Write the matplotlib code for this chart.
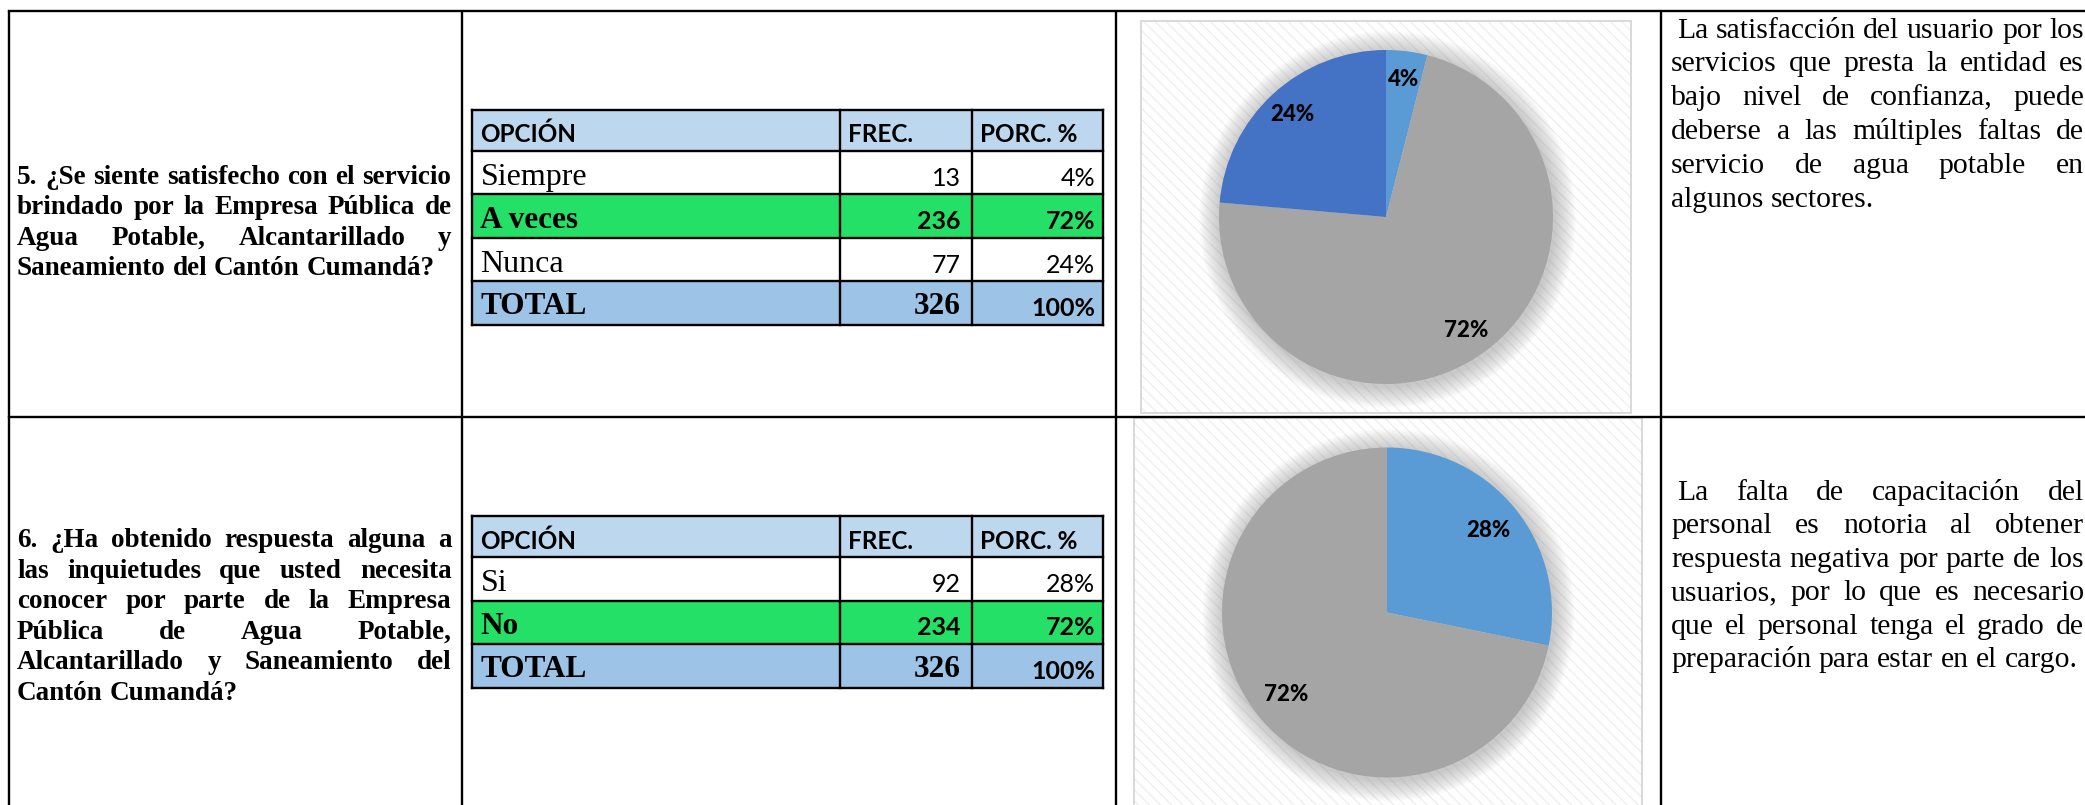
import matplotlib
matplotlib.use("Agg")
import matplotlib.pyplot as plt
from matplotlib.patches import Rectangle, Circle

# ---- data ----
q5_options = ["Siempre", "A veces", "Nunca"]
q5_freq = [13, 236, 77]
q5_colors = ["#5B9BD5", "#A5A5A5", "#4472C4"]

q6_options = ["Si", "No"]
q6_freq = [92, 234]
q6_colors = ["#5B9BD5", "#A5A5A5"]

header = ["OPCIÓN", "FREC.", "PORC. %"]

q5_text = ["5. ¿Se siente satisfecho con el servicio",
           "brindado por la Empresa Pública de",
           "Agua Potable, Alcantarillado y",
           "Saneamiento del Cantón Cumandá?"]
q6_text = ["6. ¿Ha obtenido respuesta alguna a",
           "las inquietudes que usted necesita",
           "conocer por parte de la Empresa",
           "Pública de Agua Potable,",
           "Alcantarillado y Saneamiento del",
           "Cantón Cumandá?"]
q5_comment = ["La satisfacción del usuario por los",
              "servicios que presta la entidad es",
              "bajo nivel de confianza, puede",
              "deberse a las múltiples faltas de",
              "servicio de agua potable en",
              "algunos sectores."]
q6_comment = ["La falta de capacitación del",
              "personal es notoria al obtener",
              "respuesta negativa por parte de los",
              "usuarios, por lo que es necesario",
              "que el personal tenga el grado de",
              "preparación para estar en el cargo."]

W, H = 2085, 805
SERIF = "Liberation Serif"
SANS = "Lato"

fig = plt.figure(figsize=(W / 100, H / 100), dpi=100)
ax = fig.add_axes([0, 0, 1, 1])
ax.set_xlim(0, W)
ax.set_ylim(H, 0)
ax.axis("off")
renderer = fig.canvas.get_renderer()


def text_width(s, **kw):
    t = ax.text(0, 0, s, **kw)
    w = t.get_window_extent(renderer=renderer).width
    t.remove()
    return w


def fit_size(line, width, **kw):
    # font size that makes one line exactly `width` pixels wide
    return 10 * width / text_width(line, fontsize=10, **kw)


def justified(lines, x0, x1, y0, dy, indent=0, **kw):
    # place words one by one so every line but the last fills x0..x1
    space = text_width("a a", **kw) - 2 * text_width("a", **kw)
    for i, line in enumerate(lines):
        words = line.split()
        ws = [text_width(w, **kw) for w in words]
        start = x0 + (indent if i == 0 else 0)
        if i == len(lines) - 1 or len(words) == 1:
            gap = space
        else:
            gap = (x1 - start - sum(ws)) / (len(words) - 1)
        x = start
        for w, wd in zip(words, ws):
            ax.text(x, y0 + i * dy, w, ha="left", va="baseline", **kw)
            x += wd + gap


# ---- document grid ----
lw_doc = 1.7
for x in [8.5, 461.5, 1116, 1661]:
    ax.plot([x, x], [11, H + 5], color="black", lw=lw_doc, solid_capstyle="butt")
ax.plot([8.5, W + 5], [11, 11], color="black", lw=lw_doc)
ax.plot([8.5, W + 5], [417, 417], color="black", lw=lw_doc)


# ---- tables ----
col_x = [471.5, 839.6, 972, 1103]


def draw_table(top, options, freq):
    total = sum(freq)
    best = freq.index(max(freq))
    rows_h = [41] + [43.5] * (len(options) + 1)
    edges = [top]
    for h in rows_h:
        edges.append(edges[-1] + h)
    fills = ["#BDD7EE"] + ["#24E066" if i == best else "white"
                           for i in range(len(options))] + ["#9DC3E6"]
    for r in range(len(rows_h)):
        ax.add_patch(Rectangle((col_x[0], edges[r]), col_x[-1] - col_x[0],
                               rows_h[r], facecolor=fills[r], edgecolor="none"))
    for y in edges:
        ax.plot([col_x[0], col_x[-1]], [y, y], color="black", lw=1.7)
    for x in col_x:
        ax.plot([x, x], [edges[0], edges[-1]], color="black", lw=1.7)

    # header
    base = edges[1] - 8.5
    ax.text(col_x[0] + 9, base, header[0], family=SANS, weight="bold",
            fontsize=17.5, va="baseline")
    ax.text(col_x[1] + 8, base, header[1], family=SANS, weight="bold",
            fontsize=17.5, va="baseline")
    ax.text(col_x[2] + 8, base, header[2], family=SANS, weight="bold",
            fontsize=17.5, va="baseline")
    # body
    for i, (opt, f) in enumerate(zip(options, freq)):
        b = edges[i + 2] - 10
        wt = "bold" if i == best else "normal"
        ax.text(col_x[0] + 9, b, opt, family=SERIF, weight=wt,
                fontsize=23 if wt == "normal" else 22.5, va="baseline")
        ax.text(col_x[2] - 11, b + 1, str(f), family=SANS, weight=wt,
                fontsize=18, va="baseline", ha="right")
        ax.text(col_x[3] - 8, b + 1, "%d%%" % round(100 * f / total),
                family=SANS, weight=wt, fontsize=18, va="baseline", ha="right")
    b = edges[-1] - 11
    ax.text(col_x[0] + 9, b, "TOTAL", family=SERIF, weight="bold",
            fontsize=22.5, va="baseline")
    ax.text(col_x[2] - 11, b, str(total), family=SERIF, weight="bold",
            fontsize=22.5, va="baseline", ha="right")
    ax.text(col_x[3] - 8, b + 2, "100%", family=SANS, weight="bold",
            fontsize=18, va="baseline", ha="right")


draw_table(110, q5_options, q5_freq)
draw_table(516, q6_options, q6_freq)

# ---- questions and comments ----
qsize = fit_size(q5_text[0], 432, family=SERIF, weight="bold")
csize = fit_size(q5_comment[0], 406, family=SERIF)
justified(q5_text, 17, 451.5, 183.5, 30.6, family=SERIF, weight="bold", fontsize=qsize)
justified(q6_text, 17, 451.5, 547, 30.5, family=SERIF, weight="bold", fontsize=qsize)
justified(q5_comment, 1671, 2084, 37.5, 33.8, indent=6, family=SERIF, fontsize=csize)
justified(q6_comment, 1671, 2084, 500, 33.4, indent=6, family=SERIF, fontsize=csize)


# ---- pie charts ----
def chart_box(x0, y0, x1, y1):
    ax.add_patch(Rectangle((x0, y0), x1 - x0, y1 - y0, facecolor="white",
                           edgecolor="#EFEFEF", hatch="\\\\\\", linewidth=0))
    ax.add_patch(Rectangle((x0, y0), x1 - x0, y1 - y0, fill=False,
                           edgecolor="#D9D9D9", linewidth=1.4))


def draw_pie(cx, cy, r, freq, colors, pctdist):
    pax = fig.add_axes([(cx - r) / W, 1 - (cy + r) / H, 2 * r / W, 2 * r / H])
    pax.pie(freq, colors=colors, startangle=90, counterclock=False, radius=1,
            autopct="%.0f%%", pctdistance=pctdist,
            wedgeprops=dict(linewidth=0),
            textprops=dict(family=SANS, weight="black", fontsize=16,
                           color="black"))
    # soft shadow behind the pie
    for k in range(16):
        pax.add_patch(Circle((0.01, -0.015), 1.0 + 0.008 * (16 - k),
                             facecolor="#8A8A8A", edgecolor="none",
                             alpha=0.03, zorder=0, clip_on=False))
    pax.set_xlim(-1, 1)
    pax.set_ylim(-1, 1)
    pax.axis("off")


chart_box(1141, 20.7, 1631, 413)
chart_box(1133.6, 418, 1641.7, H + 10)
draw_pie(1386, 217, 167, q5_freq, q5_colors, 0.83)
draw_pie(1387, 612.5, 165, q6_freq, q6_colors, 0.79)

fig.savefig("out.png", dpi=100)
